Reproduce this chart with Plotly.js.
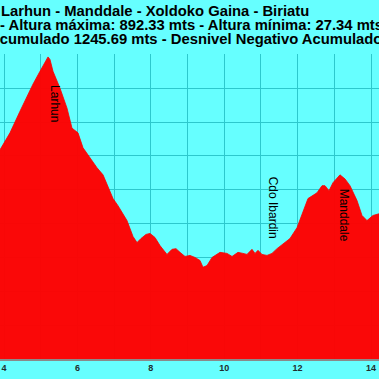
<!DOCTYPE html>
<html>
<head>
<meta charset="utf-8">
<script src="https://cdn.plot.ly/plotly-3.0.1.min.js"></script>
<style>html,body{margin:0;padding:0;background:#66ffff;}#chart{width:379px;height:379px;}</style>
</head>
<body>
<div id="chart"></div>
<script>
var distanceKm = [3.891, 4.163, 4.436, 4.790, 4.981, 5.199, 5.253, 5.335, 5.526, 5.717, 5.853, 5.962, 6.016, 6.153,
  6.343, 6.534, 6.698, 6.834, 6.970, 7.106, 7.243, 7.351, 7.515, 7.624, 7.733, 7.869, 7.978, 8.114, 8.251, 8.441,
  8.578, 8.687, 8.796, 8.932, 9.068, 9.204, 9.341, 9.422, 9.531, 9.668, 9.886, 10.076, 10.213, 10.376, 10.512,
  10.621, 10.757, 10.839, 10.921, 11.030, 11.166, 11.302, 11.439, 11.602, 11.793, 11.984, 12.147, 12.283, 12.529,
  12.665, 12.747, 12.856, 12.965, 13.155, 13.292, 13.428, 13.619, 13.755, 13.891, 14.054, 14.218];
var altitudeM = [618, 668, 732, 812, 850, 892.33, 885, 850, 800, 741, 682, 673, 668, 624,
  594, 565, 544, 509, 474, 453, 429, 409, 362, 344, 356, 368, 371, 359, 335, 309,
  324, 326, 315, 303, 306, 300, 291, 271, 276, 300, 315, 312, 303, 315, 312,
  309, 324, 312, 321, 309, 306, 312, 326, 341, 356, 388, 438, 474, 491,
  512, 512, 497, 521, 544, 532, 512, 468, 424, 409, 424, 429];

var titleLines = [
  "Larhun - Manddale - Xoldoko Gaina - Biriatu",
  "- Altura máxima: 892.33 mts - Altura mínima: 27.34 mts",
  "Acumulado 1245.69 mts - Desnivel Negativo Acumulado"
];
var waypointNames = ["Larhun", "Cdo Ibardin", "Manddale"];
var waypointKm = [5.39, 11.33, 13.26];
var waypointAlt = [756, 447, 424];

var W = 379, plotTop = 54, plotBottom = 359;
function py(p){ return (plotBottom - p) / (plotBottom - plotTop); }

var annotations = [];
var titleX = [1, 0, -11];
var titleY = [10.5, 25, 39.5];
for (var i = 0; i < titleLines.length; i++) {
  annotations.push({
    text: titleLines[i], xref: 'paper', yref: 'paper',
    x: titleX[i] / W, y: py(titleY[i]), xanchor: 'left', yanchor: 'middle',
    showarrow: false, borderpad: 0, borderwidth: 0,
    font: {family: 'Liberation Sans, Arial, sans-serif', size: 14.8, color: '#000', weight: 'bold'}
  });
}
for (var j = 0; j < waypointNames.length; j++) {
  annotations.push({
    text: waypointNames[j], x: waypointKm[j], y: waypointAlt[j], xref: 'x', yref: 'y',
    textangle: 90, showarrow: false,
    font: {family: 'Liberation Sans, Arial, sans-serif', size: 12, color: '#000'}
  });
}

var gridCol = 'rgb(45,200,205)';
Plotly.newPlot('chart', [{
  x: distanceKm, y: altitudeM, type: 'scatter', mode: 'lines',
  fill: 'tozeroy', fillcolor: 'rgba(255,0,0,0.97)',
  line: {color: 'rgb(250,0,0)', width: 0.8}, hoverinfo: 'none'
}], {
  width: 379, height: 379,
  margin: {l: 0, r: 0, t: plotTop, b: 379 - plotBottom},
  paper_bgcolor: '#66ffff', plot_bgcolor: '#66ffff',
  showlegend: false,
  xaxis: {
    range: [3.891, 14.218], tick0: 0, dtick: 2, showgrid: true, gridcolor: gridCol, gridwidth: 1,
    minor: {dtick: 1, showgrid: true, gridcolor: gridCol, gridwidth: 1},
    zeroline: false, showline: true, linecolor: '#8a8a8a', linewidth: 1.5,
    ticks: '', ticklen: 0,
    tickfont: {family: 'Liberation Sans, Arial, sans-serif', size: 9, color: '#1e2e2e', weight: 'bold'}
  },
  yaxis: {
    range: [0, 901], dtick: 100, showgrid: true, gridcolor: gridCol, gridwidth: 1,
    zeroline: false, showticklabels: false, ticks: ''
  },
  annotations: annotations
}, {staticPlot: true});
</script>
</body>
</html>
